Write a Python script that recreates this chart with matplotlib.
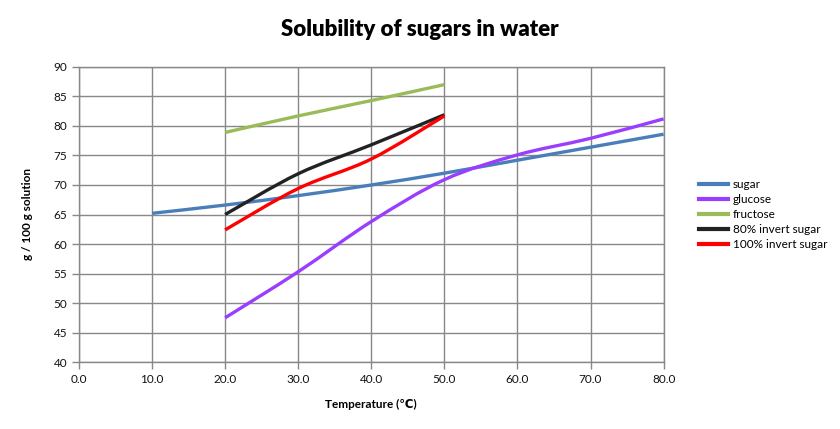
import matplotlib
matplotlib.use("Agg")
import matplotlib.pyplot as plt
from matplotlib.path import Path
from matplotlib.patches import PathPatch
from matplotlib.lines import Line2D
import numpy as np

plt.rcParams['font.family'] = ['Lato', 'DejaVu Sans']

temps_sugar = [10, 20, 30, 40, 50, 60, 70, 80]
sugar = [65.2, 66.6, 68.2, 70.0, 72.0, 74.2, 76.4, 78.6]
temps_glucose = [20, 30, 40, 50, 60, 70, 80]
glucose = [47.5, 55.3, 63.8, 70.9, 75.1, 77.9, 81.2]
temps_short = [20, 30, 40, 50]
fructose = [78.9, 81.7, 84.3, 87.0]
invert80 = [65.0, 71.9, 76.8, 81.9]
invert100 = [62.4, 69.4, 74.4, 81.7]

labels = ["sugar", "glucose", "fructose", "80% invert sugar", "100% invert sugar"]
colors = ["#4a7ebb", "#9b3dff", "#9bbb59", "#222222", "#ff0000"]
series = [(temps_sugar, sugar), (temps_glucose, glucose), (temps_short, fructose),
          (temps_short, invert80), (temps_short, invert100)]

x_ticks = [0, 10, 20, 30, 40, 50, 60, 70, 80]
y_ticks = [40, 45, 50, 55, 60, 65, 70, 75, 80, 85, 90]


def smooth_path(xs, ys, t=1/6):
    pts = np.column_stack([xs, ys]).astype(float)
    n = len(pts)
    verts = [pts[0]]
    codes = [Path.MOVETO]
    for i in range(n - 1):
        p0 = pts[i - 1] if i > 0 else pts[i]
        p1 = pts[i]
        p2 = pts[i + 1]
        p3 = pts[i + 2] if i + 2 < n else pts[i + 1]
        c1 = p1 + (p2 - p0) * t
        c2 = p2 - (p3 - p1) * t
        verts += [c1, c2, p2]
        codes += [Path.CURVE4] * 3
    return Path(verts, codes)


fig = plt.figure(figsize=(8.4, 4.29), dpi=100)
ax = fig.add_axes([0.094, 0.156, 0.696, 0.688])
ax.set_xlim(0, 80)
ax.set_ylim(40, 90)
ax.set_xticks(x_ticks)
ax.set_xticklabels([f"{v:.1f}" for v in x_ticks])
ax.set_yticks(y_ticks)
ax.grid(True, color="#888888", linewidth=1)
ax.set_axisbelow(True)
for s in ax.spines.values():
    s.set_color("#888888")
    s.set_linewidth(1)
ax.tick_params(axis="both", colors="#888888", labelcolor="#111111", labelsize=8.5,
               length=5, width=1, direction="out")

handles = []
for (xs, ys), c, lab in zip(series, colors, labels):
    p = PathPatch(smooth_path(xs, ys), facecolor="none", edgecolor=c, linewidth=2.4,
                  capstyle="butt", joinstyle="round", zorder=3)
    ax.add_patch(p)
    handles.append(Line2D([], [], color=c, linewidth=3, label=lab))

fig.suptitle("Solubility of sugars in water", x=0.5, y=0.955, fontsize=16, fontweight="heavy")
ax.set_xlabel("Temperature (℃)", fontsize=8.5, fontweight="bold", labelpad=10)
ax.set_ylabel("g / 100 g solution", fontsize=8.5, fontweight="bold", labelpad=15)

fig.legend(handles=handles, loc="center left", bbox_to_anchor=(0.825, 0.50),
           frameon=False, fontsize=8.5, handlelength=2.5, handletextpad=0.4,
           labelspacing=0.35, borderpad=0)

fig.savefig("out.png", dpi=100)
